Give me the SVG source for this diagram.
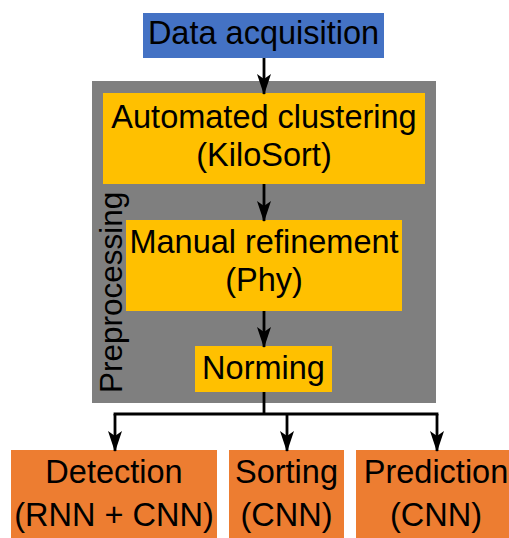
<svg xmlns="http://www.w3.org/2000/svg" width="509" height="538" viewBox="0 0 509 538">
  <style>
    .lbl { font-family: "Liberation Sans", Arial, sans-serif; font-size: 32.5px; fill: #000; text-anchor: middle; }
    .blue { fill: #4472C4; }
    .yellow { fill: #FFC000; }
    .orange { fill: #ED7D31; }
    .group { fill: #7F7F7F; }
    .wire { stroke: #000; stroke-width: 2.8; fill: none; }
  </style>
  <defs>
    <marker id="arrow" markerUnits="userSpaceOnUse" markerWidth="21" markerHeight="14" refX="20" refY="7" orient="auto" viewBox="0 0 21 14">
      <path d="M0,0 L21,7 L0,14 L5,7 Z" fill="#000"/>
    </marker>
  </defs>

  <rect width="509" height="538" fill="#fff"/>

  <!-- preprocessing container -->
  <g id="preprocessing">
    <rect class="group" x="92" y="81" width="344" height="322"/>
    <text class="lbl" transform="translate(122,393) rotate(-90)" style="font-size:31.5px;text-anchor:start">Preprocessing</text>
  </g>

  <g id="data-acquisition">
    <rect class="blue" x="143" y="13" width="241" height="45"/>
    <text class="lbl" x="263.5" y="44">Data acquisition</text>
  </g>

  <g id="automated-clustering">
    <rect class="yellow" x="103" y="93" width="322" height="91"/>
    <text class="lbl" x="264" y="128">Automated clustering</text>
    <text class="lbl" x="264" y="166">(KiloSort)</text>
  </g>

  <g id="manual-refinement">
    <rect class="yellow" x="126" y="220" width="276" height="91"/>
    <text class="lbl" x="264" y="253">Manual refinement</text>
    <text class="lbl" x="264" y="291">(Phy)</text>
  </g>

  <g id="norming">
    <rect class="yellow" x="195" y="346" width="137" height="46"/>
    <text class="lbl" x="263.5" y="379">Norming</text>
  </g>

  <g id="detection">
    <rect class="orange" x="11" y="450" width="206" height="90"/>
    <text class="lbl" x="114" y="483">Detection</text>
    <text class="lbl" x="114" y="526">(RNN + CNN)</text>
  </g>

  <g id="sorting">
    <rect class="orange" x="229" y="450" width="115" height="90"/>
    <text class="lbl" x="286.5" y="483">Sorting</text>
    <text class="lbl" x="286.5" y="526">(CNN)</text>
  </g>

  <g id="prediction">
    <rect class="orange" x="356" y="450" width="155" height="90"/>
    <text class="lbl" x="436" y="483">Prediction</text>
    <text class="lbl" x="436" y="526">(CNN)</text>
  </g>

  <!-- connectors -->
  <g id="connectors">
    <path class="wire" d="M264,58 L264,94" marker-end="url(#arrow)"/>
    <path class="wire" d="M264,184 L264,221" marker-end="url(#arrow)"/>
    <path class="wire" d="M264,311 L264,347" marker-end="url(#arrow)"/>
    <path class="wire" d="M264,392 L264,414"/>
    <path class="wire" d="M115,414 L437,414" stroke-linecap="square"/>
    <path class="wire" d="M115,414 L115,451" marker-end="url(#arrow)"/>
    <path class="wire" d="M287,414 L287,451" marker-end="url(#arrow)"/>
    <path class="wire" d="M437,414 L437,451" marker-end="url(#arrow)"/>
  </g>
</svg>
